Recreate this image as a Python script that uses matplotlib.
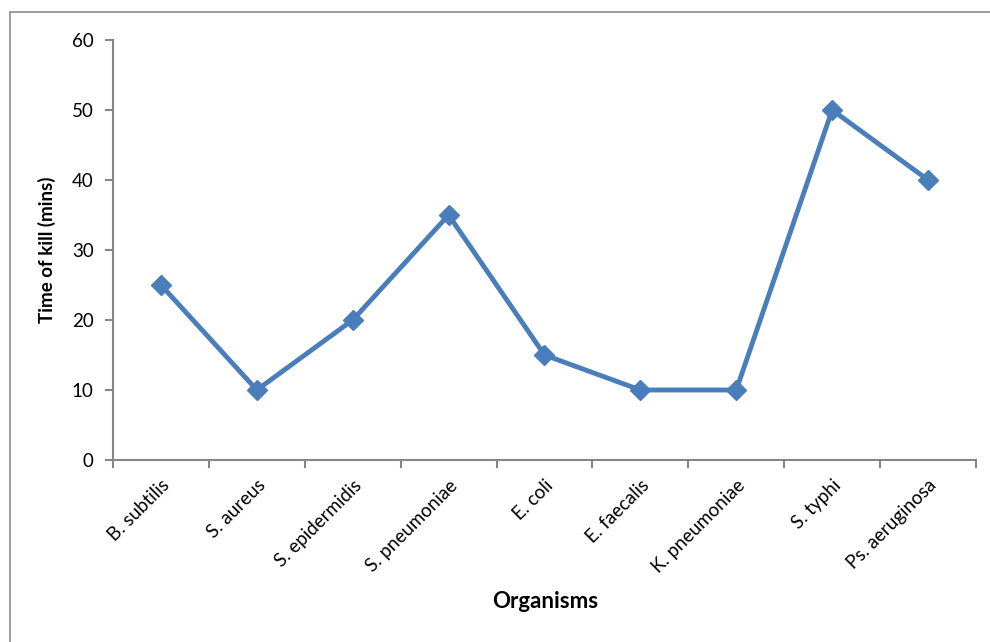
import matplotlib.pyplot as plt
from matplotlib.patches import Rectangle
from matplotlib.transforms import ScaledTranslation

organisms = ['B. subtilis', 'S. aureus', 'S. epidermidis', 'S. pneumoniae', 'E. coli',
             'E. faecalis', 'K. pneumoniae', 'S. typhi', 'Ps. aeruginosa']
kill_time = [25, 10, 20, 35, 15, 10, 10, 50, 40]
y_ticks = [0, 10, 20, 30, 40, 50, 60]

plt.rcParams['font.family'] = ['Lato', 'DejaVu Sans']

fig = plt.figure(figsize=(9.9, 6.42), dpi=100)
ax = fig.add_axes([113 / 990, 1 - 460 / 642, (976 - 113) / 990, (460 - 40) / 642])

# outer chart frame (cropped on right and bottom)
fig.patches.append(Rectangle((10 / 990, -0.1), 1.2, 1 - 12 / 642 + 0.1,
                             transform=fig.transFigure, fill=False,
                             edgecolor='#8c8c8c', linewidth=1.2))

x = list(range(len(organisms)))
ax.plot(x, kill_time, color='#4A7EBB', linewidth=3.5, marker='D', markersize=10,
        markerfacecolor='#4A7EBB', markeredgecolor='#4A7EBB')

ax.set_xlim(-0.5, len(organisms) - 0.5)
ax.set_ylim(0, 60)
ax.set_yticks(y_ticks)

ax.set_xticks(x)
ax.set_xticklabels(organisms, rotation=45, ha='right', rotation_mode='anchor', fontsize=13.5)
shift = ScaledTranslation(-6 / 100, 0, fig.dpi_scale_trans)
for lbl in ax.get_xticklabels():
    lbl.set_transform(lbl.get_transform() + shift)
ax.set_xticks([i - 0.5 for i in range(len(organisms) + 1)], minor=True)
ax.tick_params(axis='x', which='major', length=0, pad=12)
ax.tick_params(axis='x', which='minor', length=6, color='#868686', width=1.5, direction='out')
ax.tick_params(axis='y', length=6, color='#868686', width=1.5, direction='out', labelsize=13.5, pad=8)

for side in ['top', 'right']:
    ax.spines[side].set_visible(False)
for side in ['left', 'bottom']:
    ax.spines[side].set_color('#868686')
    ax.spines[side].set_linewidth(1.5)

ax.set_ylabel('Time of kill (mins)', fontsize=13.5, fontweight='bold', labelpad=11)
fig.text(545 / 990, 1 - 602 / 642, 'Organisms', fontsize=16, fontweight='bold',
         ha='center', va='center')

fig.savefig('out.png', dpi=100)
